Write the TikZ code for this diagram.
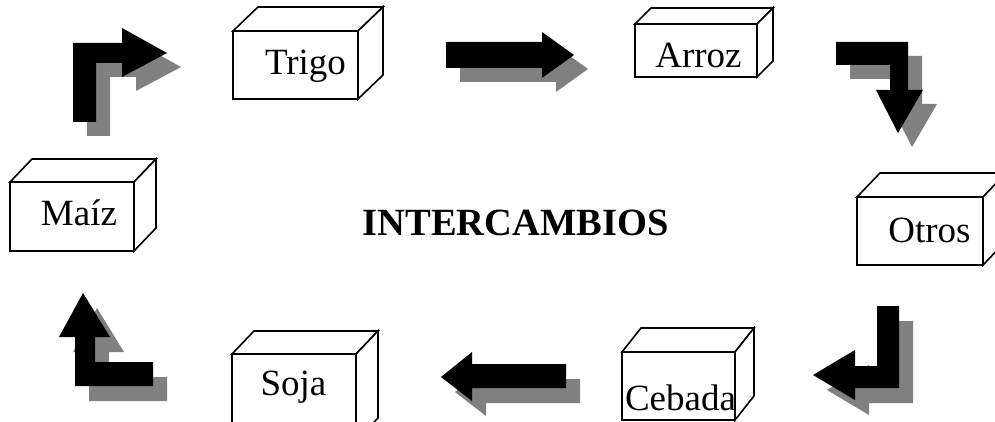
\documentclass[tikz,border=0pt]{standalone}
\usepackage{fontspec}
\setmainfont{Liberation Serif}
\definecolor{shadowgray}{RGB}{128,128,128}
\tikzset{
  boxline/.style={draw=black, line width=1.6pt, line join=miter, fill=white},
  blockshadow/.style={fill=shadowgray, draw=none},
  blockarrow/.style={fill=black, draw=none},
  label/.style={font=\fontsize{37}{44}\selectfont, inner sep=0pt, anchor=base},
  title/.style={font=\fontsize{38.5}{46}\selectfont\bfseries, inner sep=0pt, anchor=base}
}
% cube: x1 y1 x2 y2 dx dy
\newcommand{\mycube}[6]{%
  \draw[boxline] (#1,#2) rectangle (#3,#4);
  \draw[boxline] (#1,#2) -- ++(#5,#6) -- (#3+#5,#2+#6) -- (#3,#2) -- cycle;
  \draw[boxline] (#3,#2) -- (#3+#5,#2+#6) -- (#3+#5,#4+#6) -- (#3,#4) -- cycle;
}
\begin{document}
\begin{tikzpicture}[x=1pt,y=-1pt]
\useasboundingbox (0,0) rectangle (995,422);

% ---- cubes ----
\mycube{233}{31}{358}{99}{25}{-24}
\mycube{635}{24}{757}{77}{16}{-16}
\mycube{10}{182}{134}{251}{22}{-23}
\mycube{857}{197}{983}{265}{23}{-24}
\mycube{232}{354}{356}{441}{22}{-23}
\mycube{622}{352}{735}{420}{19}{-24}

% ---- texts ----
\node[label] (trigo)  at (305.5,75)  {Trigo};
\node[label] (arroz)  at (698.5,68)  {Arroz};
\node[label] (maiz)   at (79,225)    {Maíz};
\node[label] (otros)  at (929.5,242) {Otros};
\node[label] (soja)   at (293.5,395) {Soja};
\node[label] (cebada) at (680.5,410) {Cebada};
\node[title] (inter)  at (515.5,235) {INTERCAMBIOS};

% ---- block arrows: shadows then arrows ----
\newcommand{\arrowA}{(73,122) -- (73,43) -- (122,43) -- (122,28) -- (167,53) -- (122,77) -- (122,63) -- (96,63) -- (96,122) -- cycle}
\newcommand{\arrowB}{(446,42) -- (542,42) -- (542,32) -- (574,55) -- (542,78) -- (542,68) -- (446,68) -- cycle}
\newcommand{\arrowC}{(836,42) -- (908,42) -- (908,90) -- (923,90) -- (898,133) -- (876,90) -- (890,90) -- (890,65) -- (836,65) -- cycle}
\newcommand{\arrowD}{(877,306) -- (899,306) -- (899,388) -- (855,388) -- (855,400) -- (813,375) -- (855,350) -- (855,366) -- (877,366) -- cycle}
\newcommand{\arrowE}{(566,364) -- (472,364) -- (472,352) -- (441,377) -- (472,401) -- (472,388) -- (566,388) -- cycle}
\newcommand{\arrowF}{(153,362) -- (153,386) -- (75,386) -- (75,337) -- (59,337) -- (83,293) -- (110,337) -- (95,337) -- (95,362) -- cycle}

\begin{scope}[shift={(14,14)}]
  \fill[blockshadow] \arrowA;
  \fill[blockshadow] \arrowB;
  \fill[blockshadow] \arrowC;
\end{scope}
\begin{scope}[shift={(14,15)}]
  \fill[blockshadow] \arrowD;
  \fill[blockshadow] \arrowE;
  \fill[blockshadow] \arrowF;
\end{scope}
\fill[blockarrow] \arrowA;
\fill[blockarrow] \arrowB;
\fill[blockarrow] \arrowC;
\fill[blockarrow] \arrowD;
\fill[blockarrow] \arrowE;
\fill[blockarrow] \arrowF;
\end{tikzpicture}
\end{document}
